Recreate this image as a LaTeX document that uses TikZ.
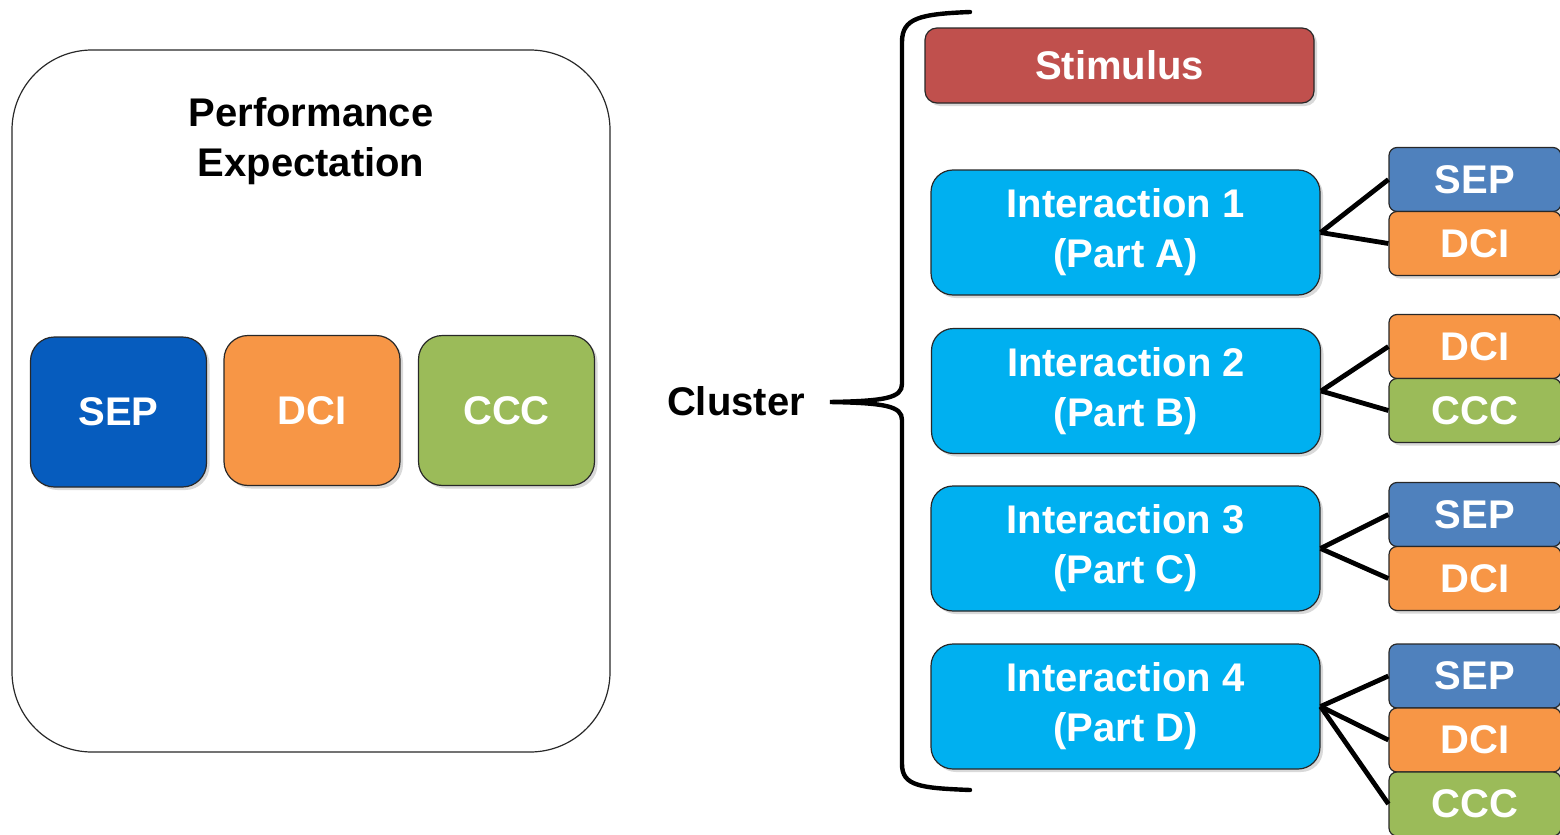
\documentclass[tikz,border=0pt]{standalone}
\usepackage{fontspec}
\setmainfont{Liberation Sans}
\usetikzlibrary{shadows}
\definecolor{sepdark}{RGB}{6,92,190}
\definecolor{seplight}{RGB}{79,129,189}
\definecolor{dciorange}{RGB}{247,150,70}
\definecolor{cccgreen}{RGB}{155,187,89}
\definecolor{stimred}{RGB}{192,80,77}
\definecolor{interblue}{RGB}{0,176,240}
\definecolor{edgegray}{RGB}{40,40,40}
\tikzset{
  lbl/.style={font=\fontsize{20}{25}\selectfont\bfseries, align=center},
  boxbase/.style={draw=edgegray, line width=0.6pt, inner sep=0pt, text=white,
    drop shadow={shadow xshift=1.5pt, shadow yshift=-1.5pt, opacity=0.3}, lbl},
  pebox/.style={boxbase, rounded corners=12pt, minimum width=88pt, minimum height=75pt},
  stimbox/.style={boxbase, fill=stimred, rounded corners=6pt, minimum width=194.5pt, minimum height=37.5pt},
  interbox/.style={boxbase, fill=interblue, rounded corners=11pt, minimum width=194.5pt, minimum height=62.5pt},
  smallbox/.style={boxbase, rounded corners=4pt, minimum width=86pt, minimum height=32pt},
  conn/.style={draw=black, line width=2.4pt},
  bracestyle/.style={draw=black, line width=2.2pt, line cap=round}
}
\begin{document}
\begin{tikzpicture}[x=0.5pt, y=-0.5pt]
\useasboundingbox (0,0) rectangle (1560,835);
\clip (0,0) rectangle (1560,835);
% left panel
\node[draw=edgegray, line width=0.6pt, rounded corners=40pt, minimum width=299pt, minimum height=351pt, inner sep=0pt] (pe) at (311,401) {};
\node[lbl, text=black] (petitle) at (311,141) {Performance\\Expectation};
\node[pebox, fill=sepdark] (lsep) at (118.5,412) {SEP};
\node[pebox, fill=dciorange] (ldci) at (312,410.5) {DCI};
\node[pebox, fill=cccgreen] (lccc) at (506.5,410.5) {CCC};
% cluster label and brace
\node[lbl, text=black] (cluster) at (736,401) {Cluster};
\coordinate (tip) at (830,402);
\coordinate (btop) at (970,12);
\coordinate (bbot) at (970,790);
\draw[bracestyle] (btop) .. controls (920,14) and (902,18) .. (902,42) -- (902,384)
  .. controls (902,398) and (885,401) .. (tip)
  .. controls (885,403) and (902,406) .. (902,420) -- (902,764)
  .. controls (902,786) and (920,788) .. (bbot);
% right side
\node[stimbox] (stim) at (1119.5,65.5) {Stimulus};
\node[interbox] (i1) at (1125.5,232.5) {Interaction 1\\(Part A)};
\node[interbox] (i2) at (1126,391) {Interaction 2\\(Part B)};
\node[interbox] (i3) at (1125.5,548.5) {Interaction 3\\(Part C)};
\node[interbox] (i4) at (1125.5,706.5) {Interaction 4\\(Part D)};
\node[smallbox, fill=seplight] (s1) at (1475,179.5) {SEP};
\node[smallbox, fill=dciorange] (d1) at (1475,243.5) {DCI};
\node[smallbox, fill=dciorange] (d2) at (1475,346.5) {DCI};
\node[smallbox, fill=cccgreen] (c2) at (1475,410.5) {CCC};
\node[smallbox, fill=seplight] (s3) at (1475,514.5) {SEP};
\node[smallbox, fill=dciorange] (d3) at (1475,578.5) {DCI};
\node[smallbox, fill=seplight] (s4) at (1475,676) {SEP};
\node[smallbox, fill=dciorange] (d4) at (1475,740) {DCI};
\node[smallbox, fill=cccgreen] (c4) at (1475,804) {CCC};
\draw[conn] (i1.east) -- (s1.west);
\draw[conn] (i1.east) -- (d1.west);
\draw[conn] (i2.east) -- (d2.west);
\draw[conn] (i2.east) -- (c2.west);
\draw[conn] (i3.east) -- (s3.west);
\draw[conn] (i3.east) -- (d3.west);
\draw[conn] (i4.east) -- (s4.west);
\draw[conn] (i4.east) -- (d4.west);
\draw[conn] (i4.east) -- (c4.west);
\end{tikzpicture}
\end{document}
